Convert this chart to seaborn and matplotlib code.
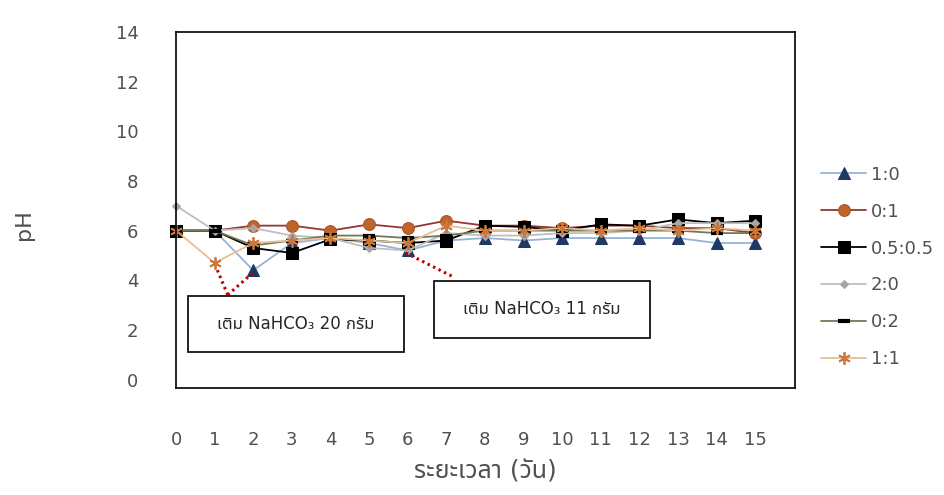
import matplotlib
matplotlib.use("Agg")
import matplotlib.pyplot as plt
from matplotlib.patches import Rectangle
import seaborn as sns
import pandas as pd

# Days of the experiment
days = list(range(16))

# pH readings for each mixing ratio
ph_1_0 = [6.0, 6.0, 4.4, 5.5, 5.7, 5.5, 5.2, 5.6, 5.7, 5.6, 5.7, 5.7, 5.7, 5.7, 5.5, 5.5]
ph_0_1 = [6.0, 6.0, 6.2, 6.2, 6.0, 6.25, 6.1, 6.4, 6.2, 6.2, 6.1, 6.2, 6.2, 6.1, 6.1, 5.9]
ph_05_05 = [6.0, 6.0, 5.3, 5.1, 5.65, 5.6, 5.5, 5.6, 6.2, 6.15, 6.0, 6.25, 6.2, 6.45, 6.3, 6.4]
ph_2_0 = [7.0, 6.0, 6.1, 5.8, 5.7, 5.3, 5.2, 5.9, 5.8, 5.8, 5.9, 5.9, 6.0, 6.3, 6.3, 6.3]
ph_0_2 = [6.0, 6.0, 5.4, 5.6, 5.8, 5.8, 5.7, 5.8, 6.0, 6.0, 6.0, 6.0, 6.0, 6.0, 5.9, 5.9]
ph_1_1 = [6.0, 4.7, 5.5, 5.6, 5.7, 5.6, 5.5, 6.2, 6.0, 6.0, 6.1, 6.0, 6.1, 6.0, 6.1, 6.0]

series_labels = ["1:0", "0:1", "0.5:0.5", "2:0", "0:2", "1:1"]
series_values = [ph_1_0, ph_0_1, ph_05_05, ph_2_0, ph_0_2, ph_1_1]

y_ticks = [0, 2, 4, 6, 8, 10, 12, 14]

note_left = "เติม NaHCO₃ 20 กรัม"
note_right = "เติม NaHCO₃ 11 กรัม"

styles = {
    "1:0": dict(color="#95B3D7", marker="^", markersize=8,
                markerfacecolor="#1F3864", markeredgecolor="#1F3864"),
    "0:1": dict(color="#943634", marker="o", markersize=8.5,
                markerfacecolor="#C0652A", markeredgecolor="#A5512A"),
    "0.5:0.5": dict(color="#000000", marker="s", markersize=8.5,
                    markerfacecolor="#000000", markeredgecolor="#000000"),
    "2:0": dict(color="#BFBFBF", marker="D", markersize=4.5,
                markerfacecolor="#A6A6A6", markeredgecolor="#A6A6A6"),
    "0:2": dict(color="#6F7A55", marker="_", markersize=9, markeredgewidth=3,
                markerfacecolor="#000000", markeredgecolor="#000000"),
    "1:1": dict(color="#E8BE93", marker=(6, 2, 0), markersize=9, markeredgewidth=1.3,
                markerfacecolor="#C9773A", markeredgecolor="#C9773A"),
}

sns.set_theme(style="white")
plt.rcParams["font.family"] = ["DejaVu Sans", "Noto Sans Thai"]

fig = plt.figure(figsize=(9.44, 4.95), dpi=100)
ax = fig.add_axes([176 / 944, (495 - 388) / 495, (795 - 176) / 944, (388 - 32) / 495])

for label, values in zip(series_labels, series_values):
    df = pd.DataFrame({"day": days, "pH": values})
    sns.lineplot(data=df, x="day", y="pH", ax=ax, label=label, linewidth=1.3,
                 clip_on=False, **styles[label])

ax.set_xlim(0, 16.03)
ax.set_ylim(-0.34, 13.85)
ax.set_xticks(days)
ax.set_xticklabels([str(d) for d in days])
ax.set_yticks(y_ticks)
ax.set_yticklabels([str(t) for t in y_ticks])
ax.tick_params(axis="x", length=0, pad=31, labelsize=13, labelcolor="#505050")
ax.tick_params(axis="y", length=0, pad=27, labelsize=13, labelcolor="#505050")
for sp in ax.spines.values():
    sp.set_color("#000000")
    sp.set_linewidth(1.2)
ax.grid(False)

ax.set_xlabel("ระยะเวลา (วัน)", fontsize=18, color="#505050")
ax.xaxis.label.set_verticalalignment("center")
ax.xaxis.set_label_coords(0.5, -0.235)
ax.set_ylabel("pH", fontsize=16, color="#505050")
ax.yaxis.set_label_coords(-0.23, 0.46)

# Annotation boxes for the bicarbonate additions
red = "#C00000"
ax.add_patch(Rectangle((0.31, 1.1), 5.59, 2.28, facecolor="white",
                       edgecolor="black", linewidth=1.2, zorder=5))
ax.text(0.31 + 5.59 / 2, 1.1 + 2.28 / 2, note_left, ha="center", va="center",
        fontsize=12, color="#262626", zorder=6)
ax.add_patch(Rectangle((6.67, 1.67), 5.61, 2.31, facecolor="white",
                       edgecolor="black", linewidth=1.2, zorder=5))
ax.text(6.67 + 5.61 / 2, 1.67 + 2.31 / 2, note_right, ha="center", va="center",
        fontsize=12, color="#262626", zorder=6)

dot = dict(color=red, linewidth=2.2, linestyle=(0, (0.8, 1.2)), zorder=4)
apex = (1.34, 3.41)
ax.plot([apex[0], 1.06], [apex[1], ph_1_1[1] - 0.25], **dot)
ax.plot([apex[0], 1.99], [apex[1], ph_1_0[2] - 0.1], **dot)
ax.plot([5.95, 7.19], [ph_1_0[6] - 0.1, 4.13], **dot)

leg = ax.legend(loc="center left", bbox_to_anchor=(821 / 944, (495 - 267) / 495),
                bbox_transform=fig.transFigure, frameon=False, fontsize=13,
                handlelength=2.5, handletextpad=0.25, labelspacing=1.05,
                borderpad=0, borderaxespad=0)
for t in leg.get_texts():
    t.set_color("#505050")

fig.savefig("out.png", dpi=100, facecolor="white")
